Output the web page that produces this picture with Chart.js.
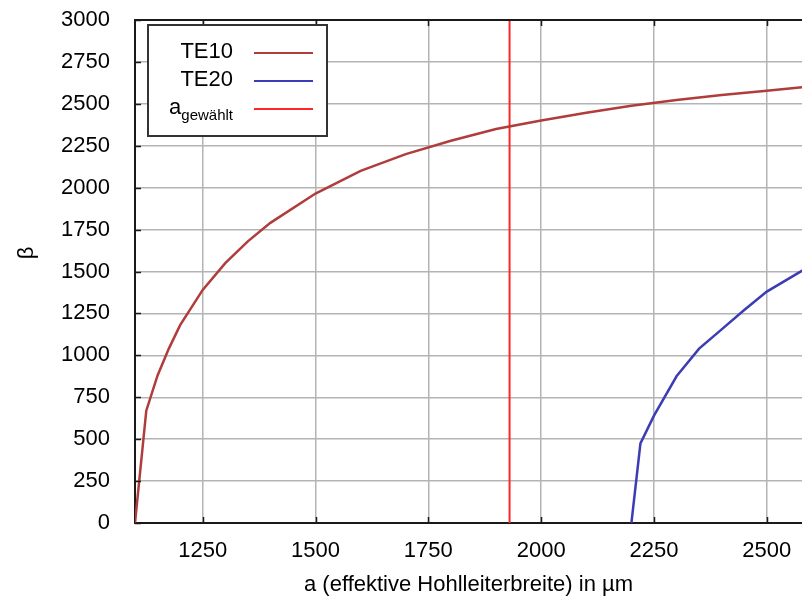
<!DOCTYPE html>
<html>
<head>
<meta charset="utf-8">
<script src="https://cdn.jsdelivr.net/npm/chart.js@4/dist/chart.umd.min.js"></script>
<style>
  html, body { margin: 0; padding: 0; background: #fff; }
</style>
</head>
<body>
<canvas id="beta-chart" width="802" height="605"></canvas>
<script>
// a in µm and beta values
const te10A    = [1100, 1125, 1150, 1175, 1200, 1250, 1300, 1350, 1400, 1500, 1600, 1700, 1800, 1900, 2000, 2100, 2200, 2300, 2400, 2500, 2600]
const te10Beta = [0, 670, 880, 1040, 1180, 1390, 1550, 1680, 1790, 1965, 2100, 2200, 2280, 2350, 2400, 2447, 2489, 2523, 2553, 2578, 2604]
const te20A    = [2200, 2220, 2250, 2300, 2350, 2400, 2450, 2500, 2600]
const te20Beta = [0, 475, 640, 875, 1040, 1155, 1270, 1380, 1540]
const aChosen  = 1930
const betaRange = [0, 3000]

const xRange = [1100, 2578]
const xTicks = [1250, 1500, 1750, 2000, 2250, 2500]
const yTicks = [0, 250, 500, 750, 1000, 1250, 1500, 1750, 2000, 2250, 2500, 2750, 3000]
const seriesLabels = ['TE10', 'TE20', 'a']
const chosenSub = 'gewählt'
const seriesColors = ['#b03c3c', '#3c3cb4', '#ff2626']

const FONT = 'Liberation Sans, Arial, Helvetica, sans-serif'

const toPoints = (xs, ys) => xs.map((x, i) => ({x: x, y: ys[i]}))

// frame, inward tick marks, legend box and the beta label
const decorations = {
  id: 'decorations',
  afterDraw(chart) {
    const ctx = chart.ctx
    const area = chart.chartArea
    const xs = chart.scales.x
    const ys = chart.scales.y
    ctx.save()
    ctx.strokeStyle = '#1a1a1a'
    ctx.lineWidth = 2
    ctx.beginPath()
    ctx.moveTo(area.left - 1, area.top)
    ctx.lineTo(area.right, area.top)
    ctx.stroke()

    ctx.lineWidth = 1.5
    ctx.beginPath()
    xs.ticks.forEach(t => {
      const px = Math.round(xs.getPixelForValue(t.value)) + 0.5
      ctx.moveTo(px, area.bottom); ctx.lineTo(px, area.bottom - 6)
      ctx.moveTo(px, area.top); ctx.lineTo(px, area.top + 6)
    })
    ys.ticks.forEach(t => {
      const py = Math.round(ys.getPixelForValue(t.value)) + 0.5
      ctx.moveTo(area.left, py); ctx.lineTo(area.left + 6, py)
    })
    ctx.stroke()

    // legend
    const box = {x: 148, y: 25, w: 179, h: 111}
    ctx.fillStyle = '#fff'
    ctx.fillRect(box.x, box.y, box.w, box.h)
    ctx.strokeStyle = '#333'
    ctx.lineWidth = 2
    ctx.strokeRect(box.x, box.y, box.w, box.h)

    const rows = [53, 81, 109]
    ctx.textBaseline = 'middle'
    rows.forEach((ry, i) => {
      ctx.strokeStyle = seriesColors[i]
      ctx.lineWidth = 2
      ctx.beginPath()
      ctx.moveTo(254, ry); ctx.lineTo(313, ry)
      ctx.stroke()
      ctx.fillStyle = '#000'
      if (i < 2) {
        ctx.font = '22px ' + FONT
        ctx.textAlign = 'right'
        ctx.fillText(seriesLabels[i], 233, ry - 1)
      } else {
        ctx.font = '15px ' + FONT
        ctx.textAlign = 'right'
        ctx.fillText(chosenSub, 233, ry + 7)
        const subW = ctx.measureText(chosenSub).width
        ctx.font = '22px ' + FONT
        ctx.fillText(seriesLabels[i], 233 - subW, ry - 1)
      }
    })

    // y title
    ctx.translate(27, 253)
    ctx.rotate(-Math.PI / 2)
    ctx.font = '22px ' + FONT
    ctx.textAlign = 'center'
    ctx.fillStyle = '#000'
    ctx.fillText('β', 0, 0)
    ctx.restore()
  }
}

const ctx = document.getElementById('beta-chart')
const chart = new Chart(ctx, {
  type: 'line',
  data: {
    datasets: [
      {
        label: seriesLabels[0],
        data: toPoints(te10A, te10Beta),
        borderColor: seriesColors[0],
        borderWidth: 2.5,
        pointRadius: 0,
        tension: 0
      },
      {
        label: seriesLabels[1],
        data: toPoints(te20A, te20Beta),
        borderColor: seriesColors[1],
        borderWidth: 2.5,
        pointRadius: 0,
        tension: 0
      },
      {
        label: seriesLabels[2] + chosenSub,
        data: toPoints([aChosen, aChosen], betaRange),
        borderColor: seriesColors[2],
        borderWidth: 2,
        pointRadius: 0
      }
    ]
  },
  options: {
    responsive: false,
    animation: false,
    devicePixelRatio: 1,
    layout: { padding: {top: 20, left: 0, right: 0, bottom: 0} },
    plugins: { legend: {display: false}, tooltip: {enabled: false} },
    scales: {
      x: {
        type: 'linear',
        min: xRange[0],
        max: xRange[1],
        afterBuildTicks: s => { s.ticks = xTicks.map(v => ({value: v})) },
        afterFit: s => { s.height = 82; s.paddingLeft = 0; s.paddingRight = 0 },
        ticks: { color: '#000', padding: 15, font: {family: FONT, size: 22}, callback: v => String(v) },
        grid: { color: '#b4b4b4', lineWidth: 1.5, drawTicks: false },
        border: { color: '#1a1a1a', width: 2 },
        title: { display: true, text: 'a (effektive Hohlleiterbreite) in µm', color: '#000', font: {family: FONT, size: 22}, padding: {top: 0, bottom: 7} }
      },
      y: {
        min: betaRange[0],
        max: betaRange[1],
        afterBuildTicks: s => { s.ticks = yTicks.map(v => ({value: v})) },
        afterFit: s => { s.width = 135; s.paddingTop = 0; s.paddingBottom = 0 },
        ticks: { color: '#000', padding: 25, font: {family: FONT, size: 22}, callback: v => String(v) },
        grid: { color: '#b4b4b4', lineWidth: 1.5, drawTicks: false },
        border: { color: '#1a1a1a', width: 2 }
      }
    }
  },
  plugins: [decorations]
})
</script>
</body>
</html>
